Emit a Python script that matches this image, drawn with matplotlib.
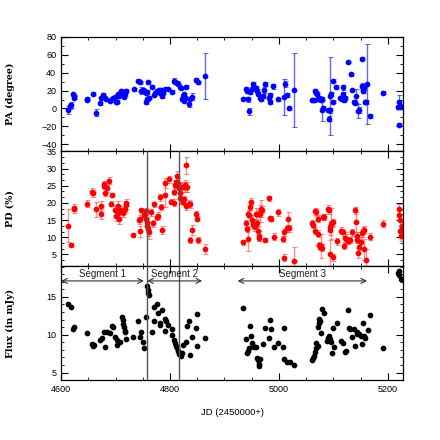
"""
Polarisation angle, polarisation degree and flux light curves
"""

import numpy as np
import matplotlib
matplotlib.use('Agg')
import matplotlib.pyplot as plt
from matplotlib.ticker import MultipleLocator

# Polarisation angle (degree)
pa_jd = [4613, 4617, 4618, 4621, 4623, 4624, 4647, 4648, 4658, 4664, 4672, 4674, 4677, 4679,
         4682, 4690, 4693, 4696, 4699, 4702, 4705, 4703, 4701, 4707, 4710, 4713, 4716, 4717,
         4719, 4733, 4742, 4744, 4747, 4750, 4752, 4755, 4757, 4756, 4758, 4761, 4759, 4767,
         4770, 4773, 4776, 4779, 4781, 4784, 4785, 4787, 4790, 4796, 4804, 4807, 4810, 4813,
         4815, 4818, 4820, 4822, 4824, 4826, 4825, 4828, 4830, 4834, 4837, 4840, 4847, 4851,
         4865,
         4934, 4939, 4941, 4944, 4945, 4947, 4950, 4953, 4955, 4957, 4960, 4962, 4965, 4967,
         4970, 4972, 4975, 4982, 4984, 4983, 4990, 4998, 5010, 5011, 5015, 5018, 5028, 5061,
         5064, 5066, 5068, 5070, 5072, 5074, 5076, 5078, 5080, 5079, 5081, 5090, 5093, 5092,
         5094, 5096, 5099, 5100, 5105, 5113, 5115, 5117, 5119, 5121, 5118, 5127, 5133, 5134,
         5137, 5139, 5142, 5145, 5148, 5152, 5154, 5155, 5156, 5153, 5158, 5160, 5162, 5168,
         5191, 5219, 5221, 5222, 5224, 5221]
pa = [-1.8, 2.7, 3.9, 16, 14, 12.2, 11, 9.5, 16.7, -4.8, 5.8, 12.2, 15.2, 13,
      10.3, 8.4, 10.3, 11.5, 13, 14, 16, 7.6, 7.3, 14, 19.8, 17.8, 13, 16,
      19.8, 21.3, 31.1, 29.2, 19.8, 20.6, 19.8, 17.8, 18.6, 7.3, 10.3, 12.2, 29.2, 24.3,
      15.2, 17.8, 19.8, 20.6, 17.8, 20.6, 14.1, 17.8, 21.7, 21.7, 18.6, 31.1, 29.2, 28.5,
      27.4, 23.5, 22.8, 10.3, 14.1, 16, 8.4, 12.2, 24.3, 5.4, 11, 13, 31.9, 29.2,
      36,
      11, 21.7, 19.8, 10.3, -3, 18.6, 21.7, 27.4, 23.5, 22.8, 19.8, 16, 12.2, 10.3,
      14.1, 20.6, 27.4, 12.2, 15.2, 7.3, 24.7, 10.3, 13, 27.4, 15.2, 0.1, 20.6, 9.2,
      9.2, 19.8, 17.8, 16, 10.3, 12.2, 10.3, 9.2, 10.3, -2.2, 0.8, -2.2, -2.2, -11.3,
      14.1, 16, 7.6, 31.1, 24.3, 12.2, 10.3, 16, 9.2, 11.5, 23.5, 52, 38, 20.6,
      7.3, 6.5, 14.1, -3, -1.8, 25.5, 21.7, 19.8, 23.5, 55.8, 7.3, 7.3, 27.4, -8.6,
      17.8, 1.6, 7.6, 2.7, 1.6, -18.1]
pa_err = [4, 3, 3, 1.5, 1.5, 1.5, 1.5, 1.5, 1.5, 4, 1.5, 2, 2, 1.5,
          1.5, 1.5, 1.5, 1.5, 1.5, 1.5, 1.5, 1.5, 1.5, 1.5, 1.5, 1.5, 1.5, 1.5,
          1.5, 1.5, 2, 2, 4, 2, 2, 2, 2, 2, 1.5, 1.5, 1.5, 1.5,
          1.5, 1.5, 1.5, 1.5, 1.5, 2, 2, 1.5, 1.5, 1.5, 1.5, 3, 2, 2,
          1.5, 1.5, 1.5, 1.5, 2, 1.5, 1.5, 1.5, 1.5, 4, 1.5, 4, 2, 2,
          25.6,
          2, 2, 2, 3, 4, 2, 2, 2, 2, 2, 2, 2, 2, 2,
          2, 3, 2, 2, 2, 2, 2.5, 1.5, 20, 3, 2, 2, 41, 1.5,
          1.5, 1.5, 2, 2, 2, 2, 2, 2, 2, 12, 2, 2, 3, 3,
          44, 2, 2, 2, 2, 2, 2, 2, 2, 2, 3, 1.5, 1.5, 1.5,
          2, 2, 8, 8, 3, 3, 3, 3, 3, 1.5, 2, 2, 45, 2,
          2, 2, 8, 2, 2, 2]

# Polarisation degree (%)
pd_jd = [4613, 4618, 4623, 4624, 4648, 4657, 4658, 4664, 4673, 4674, 4678, 4679, 4681, 4685,
         4688, 4691, 4693, 4698, 4701, 4704, 4705, 4706, 4709, 4713, 4715, 4717, 4719, 4720,
         4732, 4744, 4747, 4743, 4745, 4753, 4756, 4755, 4757, 4758, 4760, 4762, 4765, 4768,
         4770, 4776, 4777, 4782, 4784, 4785, 4790, 4791, 4798, 4801, 4807, 4809, 4811, 4813,
         4815, 4817, 4818, 4819, 4808, 4822, 4824, 4826, 4827, 4830, 4828, 4830, 4831, 4835,
         4837, 4836, 4841, 4847, 4850, 4851, 4865,
         4934, 4939, 4941, 4943, 4944, 4945, 4947, 4949, 4951, 4953, 4955, 4956, 4958, 4961,
         4960, 4962, 4963, 4964, 4965, 4967, 4969, 4974, 4982, 4983, 4985, 4991, 4999, 5008,
         5010, 5014, 5016, 5018, 5009, 5028, 5061, 5063, 5066, 5067, 5069, 5071, 5072, 5074,
         5076, 5078, 5080, 5081, 5083, 5090, 5092, 5093, 5094, 5096, 5097, 5099, 5094, 5100,
         5106, 5114, 5117, 5119, 5121, 5123, 5127, 5131, 5135, 5139, 5141, 5143, 5144, 5146,
         5148, 5150, 5152, 5154, 5156, 5157, 5160, 5167, 5192, 5220, 5221, 5222, 5223, 5224,
         5224, 5226]
pd_val = [13.4, 7.7, 18.1, 18.6, 19.8, 23.3, 22.8, 18.1, 19.0, 16.7, 25.4, 24.9, 23.0, 24.2,
          26.5, 19.8, 22.3, 18.0, 16.1, 19.0, 17.0, 15.4, 18.0, 17.0, 17.8, 18.3, 19.3, 20.0,
          10.7, 11.7, 17.8, 14.9, 15.4, 16.4, 17.6, 15.4, 14.4, 13.4, 12.4, 11.4, 17.3, 14.1,
          19.6, 15.9, 16.3, 21.6, 18.8, 12.2, 25.7, 22.3, 26.9, 20.3, 23.3, 25.2, 26.2, 27.7,
          25.7, 24.3, 22.8, 21.3, 20.0, 24.7, 20.3, 21.0, 24.7, 30.9, 25.2, 19.0, 24.6, 19.8,
          19.6, 9.2, 12.2, 16.9, 15.4, 9.2, 6.5,
          8.5, 14.1, 12.4, 9.5, 16.9, 16.6, 18.8, 20.3, 14.9, 13.9, 13.4, 13.4, 16.9, 16.9,
          14.1, 11.9, 10.4, 9.9, 16.9, 18.3, 18.0, 9.2, 21.3, 15.5, 15.4, 10.1, 17.3, 9.5,
          11.4, 12.6, 15.4, 12.6, 4.0, 3.2, 14.1, 13.7, 11.9, 17.6, 17.3, 15.4, 11.0, 7.7,
          7.2, 7.5, 7.0, 15.9, 15.9, 18.3, 17.8, 12.1, 13.1, 13.9, 14.1, 14.4, 5.2, 4.2,
          8.8, 11.9, 11.4, 7.5, 9.9, 9.5, 9.0, 9.2, 11.4, 17.8, 14.4, 9.2, 10.4, 5.5,
          7.2, 8.5, 11.1, 11.9, 6.5, 12.2, 3.5, 10.1, 13.9, 18.3, 16.4, 14.9, 11.9, 12.1,
          10.4, 13.4]
pd_err = [4.9, 0.5, 1, 1, 1, 1, 1, 2.2, 1.5, 1.5, 1, 1, 1, 1,
          1, 0.7, 0.7, 1.5, 1.5, 1.5, 1.5, 1.5, 1, 1, 1, 1, 1, 1,
          0.5, 1.5, 0.7, 1, 1, 1, 1, 1.5, 1.5, 2, 2, 2, 1, 1,
          0.7, 1, 1, 1, 1, 1.2, 1.5, 3.5, 1, 0.7, 1, 1.5, 2, 1.5,
          1.5, 1.5, 1.5, 1.5, 1, 1.5, 1, 1, 1.5, 2.5, 1.5, 1, 1.5, 1,
          1, 1, 1.5, 0.8, 0.8, 1, 1.5,
          0.7, 1, 1, 3.5, 1, 1, 1, 1, 1.5, 1.5, 1.5, 1, 1.5, 1,
          1, 1.5, 1.5, 1, 2.5, 2.5, 1, 0.7, 0.7, 0.7, 0.7, 1, 1, 1,
          1, 1, 2, 1, 1, 4, 1, 1, 1, 1, 1, 1, 1, 1,
          1, 3.5, 1, 1, 1, 1, 1, 1.5, 1.5, 4.5, 1, 1, 4, 1,
          1, 1, 1, 1, 1.5, 1.5, 1, 1, 1, 1, 3, 1, 1, 1.5,
          1, 1.5, 1, 1, 3, 1, 3, 1, 1, 1.5, 1.5, 1.5, 1.5, 1.5,
          1.5, 1]

# Flux (mJy)
flux_jd = [4613, 4618, 4621, 4624, 4648, 4656, 4658, 4661, 4672, 4675, 4678, 4684, 4690, 4680,
           4693, 4696, 4699, 4702, 4703, 4709, 4712, 4713, 4714, 4716, 4717, 4718, 4720, 4732,
           4742, 4744, 4747, 4750, 4752, 4755, 4758, 4759, 4760, 4761, 4767, 4770, 4776, 4771,
           4777, 4781, 4782, 4785, 4790, 4793, 4791, 4797, 4803, 4804, 4807, 4809, 4811, 4813,
           4815, 4817, 4819, 4820, 4822, 4824, 4829, 4831, 4834, 4837, 4841, 4847, 4850, 4849,
           4865,
           4934, 4939, 4941, 4943, 4945, 4946, 4948, 4951, 4953, 4955, 4957, 4960, 4962, 4963,
           4964, 4966, 4971, 4974, 4982, 4983, 4985, 4991, 4998, 5008, 5010, 5009, 5015, 5020,
           5028, 5060, 5063, 5064, 5067, 5069, 5068, 5071, 5072, 5074, 5076, 5073, 5080, 5082,
           5078, 5088, 5090, 5092, 5093, 5095, 5098, 5101, 5100, 5106, 5114, 5117, 5121, 5123,
           5126, 5129, 5131, 5135, 5137, 5140, 5143, 5144, 5147, 5150, 5152, 5154, 5156, 5159,
           5163, 5167, 5192, 5219, 5221, 5224, 5220]
flux = [14.1, 13.6, 10.75, 11.0, 10.2, 8.8, 8.55, 8.65, 9.35, 9.6, 10.3, 10.3, 10.2, 8.4,
        11.2, 11.0, 9.65, 9.35, 8.7, 9.1, 12.3, 12.0, 11.4, 11.0, 10.5, 10.3, 9.4, 9.65,
        11.85, 9.7, 10.4, 9.0, 8.2, 12.3, 16.45, 15.9, 15.55, 15.2, 10.4, 13.7, 14.0, 11.85,
        12.8, 11.3, 11.6, 13.2, 12.1, 11.85, 10.5, 11.3, 10.75, 9.9, 9.35, 8.9, 8.55, 8.2,
        7.9, 7.45, 7.6, 7.25, 7.65, 8.65, 9.1, 11.2, 11.85, 7.3, 9.65, 10.85, 12.7, 8.55,
        9.5,
        13.55, 9.4, 7.6, 7.9, 8.2, 11.2, 9.85, 8.9, 8.55, 8.4, 8.35, 6.9, 6.6, 6.15,
        5.9, 6.8, 8.8, 10.85, 9.5, 12.0, 10.75, 8.4, 8.85, 8.35, 10.85, 6.8, 6.35, 6.45,
        6.0, 6.7, 6.95, 7.15, 7.75, 8.2, 8.9, 8.55, 11.0, 12.05, 11.85, 11.55, 13.45, 12.8,
        10.2, 9.2, 9.5, 9.8, 9.45, 9.0, 7.6, 8.35, 10.85, 11.6, 9.2, 8.9, 7.75, 7.9,
        13.25, 10.85, 10.7, 9.7, 10.75, 8.55, 10.15, 10.3, 10.1, 9.85, 8.8, 11.55, 9.8, 9.5,
        10.6, 12.6, 8.25, 18.2, 17.85, 17.35, 18.4]

# Segment boundaries
seg_lines = [4758, 4816]
seg_names = ['Segment 1', 'Segment 2', 'Segment 3']
seg_start = [4600, 4758, 4924]
seg_end = [4752, 4859, 5162]

fig = plt.figure(figsize=(4.4, 4.4), dpi=100)
gs = fig.add_gridspec(3, 1, left=0.139, right=0.916, bottom=0.136, top=0.916, hspace=0)
ax1 = fig.add_subplot(gs[0])
ax2 = fig.add_subplot(gs[1], sharex=ax1)
ax3 = fig.add_subplot(gs[2], sharex=ax1)

lab_font = dict(family='DejaVu Serif', fontsize=6.8, fontweight='bold')

# PA
ax1.errorbar(pa_jd, pa, yerr=pa_err, fmt='o', color='#0000ff', ms=3.1, mec='#0000ff',
             ecolor=(0.15, 0.15, 1.0, 0.7), elinewidth=1.0, capsize=1.8, capthick=0.8)
ax1.set_ylim(-48, 80)
ax1.yaxis.set_major_locator(MultipleLocator(20))
ax1.yaxis.set_minor_locator(MultipleLocator(10))
ax1.set_ylabel('PA (degree)', **lab_font)

# PD
ax2.errorbar(pd_jd, pd_val, yerr=pd_err, fmt='o', color='#ff0000', ms=3.1, mec='#ff0000',
             ecolor=(1.0, 0.2, 0.2, 0.55), elinewidth=1.0, capsize=1.8, capthick=0.8)
ax2.set_ylim(1.7, 35)
ax2.yaxis.set_major_locator(MultipleLocator(5))
ax2.yaxis.set_minor_locator(MultipleLocator(5 / 3))
ax2.set_ylabel('PD (%)', **lab_font)

# Flux
ax3.plot(flux_jd, flux, 'o', color='black', ms=3.1)
ax3.set_ylim(4, 19.1)
ax3.yaxis.set_major_locator(MultipleLocator(5))
ax3.yaxis.set_minor_locator(MultipleLocator(1))
ax3.set_ylabel('Flux (in mJy)', **lab_font)

for ax in (ax2, ax3):
    for xl in seg_lines:
        ax.axvline(xl, color='#555555', lw=1.0, zorder=3)

for name, x0, x1 in zip(seg_names, seg_start, seg_end):
    ax3.annotate('', xy=(x0, 17.1), xytext=(x1, 17.1),
                 arrowprops=dict(arrowstyle='<->', color='#333333', lw=0.8,
                                 shrinkA=0, shrinkB=0, mutation_scale=9))
    ax3.text((x0 + x1) / 2, 17.3, name, ha='center', va='bottom', fontsize=7,
             family='Liberation Sans', color='#222222')

ax3.set_xlim(4600, 5228)
ax3.xaxis.set_major_locator(MultipleLocator(200))
ax3.xaxis.set_minor_locator(MultipleLocator(50))
ax3.set_xlabel('JD (2450000+)', fontsize=6.8, family='Liberation Sans', labelpad=10)

for ax in (ax1, ax2, ax3):
    ax.tick_params(which='both', direction='in', top=True, right=True, labelsize=6.5)
    ax.tick_params(which='major', length=5, width=0.8)
    ax.tick_params(which='minor', length=2.5, width=0.6)
    for lbl in ax.get_xticklabels() + ax.get_yticklabels():
        lbl.set_family('Liberation Sans')
    ax.yaxis.set_label_coords(-0.135, 0.5)
    for sp in ax.spines.values():
        sp.set_linewidth(0.9)
for ax in (ax1, ax2):
    ax.tick_params(labelbottom=False)

plt.savefig('out.png', dpi=100)
plt.close()
